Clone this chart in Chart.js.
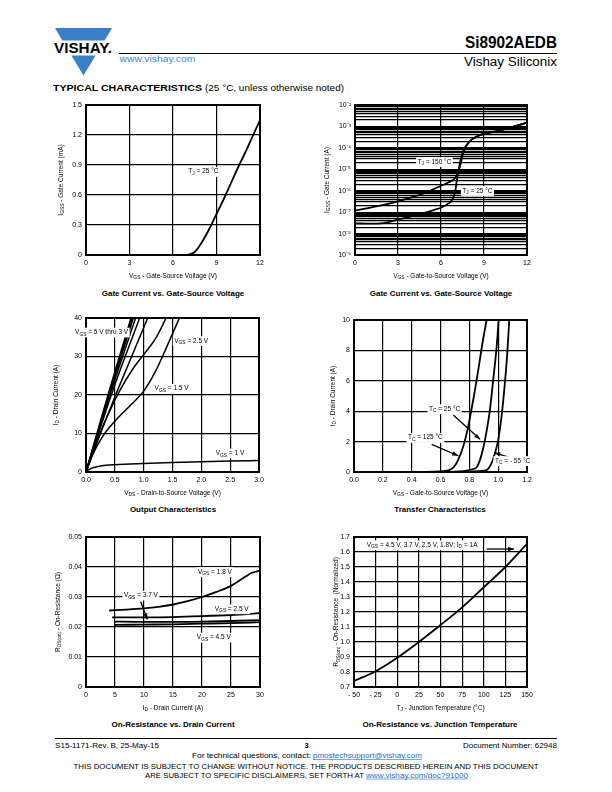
<!DOCTYPE html>
<html>
<head>
<meta charset="utf-8">
<title>Si8902AEDB - Typical Characteristics</title>
<script src="https://cdn.jsdelivr.net/npm/chart.js@4.4.1/dist/chart.umd.min.js"></script>
<style>
  body { margin: 0; width: 612px; height: 792px; position: relative; background: #fff; overflow: hidden;
         font-family: "Liberation Sans", Arial, sans-serif; color: #000; }
  canvas { position: absolute; }
  svg { position: absolute; left: 0; top: 0; }
  .cap { position: absolute; width: 220px; text-align: center; font-weight: bold; font-size: 8px; line-height: 9px; }
</style>
</head>
<body>

<svg width="612" height="792" font-family="Liberation Sans, Arial, sans-serif">
  <!-- header -->
  <polygon points="55,28 112,28 104.7,40.5 62.3,40.5" fill="#3b7fc8"/>
  <polygon points="71.4,55.5 95.6,55.5 83.5,75.5" fill="#3b7fc8"/>
  <text x="54" y="53" font-size="14.5" font-weight="bold" textLength="58" lengthAdjust="spacingAndGlyphs">VISHAY.</text>
  <text x="557" y="48" font-size="16.5" font-weight="bold" text-anchor="end" textLength="92" lengthAdjust="spacingAndGlyphs">Si8902AEDB</text>
  <line x1="119" y1="53.5" x2="557" y2="53.5" stroke="#000" stroke-width="1.2"/>
  <text x="119.5" y="62" font-size="9" fill="#3b8ad6" textLength="76" lengthAdjust="spacingAndGlyphs">www.vishay.com</text>
  <text x="557" y="66" font-size="12.5" text-anchor="end" textLength="93" lengthAdjust="spacingAndGlyphs">Vishay Siliconix</text>
  <text x="53" y="91" font-size="9.5" font-weight="bold" textLength="149" lengthAdjust="spacingAndGlyphs">TYPICAL CHARACTERISTICS</text>
  <text x="205" y="91" font-size="9" textLength="139" lengthAdjust="spacingAndGlyphs">(25 °C, unless otherwise noted)</text>

  <!-- footer -->
  <line x1="55" y1="738.5" x2="557" y2="738.5" stroke="#000" stroke-width="1"/>
  <text x="55" y="747.5" font-size="7.5" textLength="104" lengthAdjust="spacingAndGlyphs">S15-1171-Rev. B, 25-May-15</text>
  <text x="306.5" y="747.5" font-size="7.5" font-weight="bold" text-anchor="middle">3</text>
  <text x="557" y="747.5" font-size="7.5" text-anchor="end" textLength="94" lengthAdjust="spacingAndGlyphs">Document Number: 62948</text>
  <text x="311" y="758" font-size="7.5" text-anchor="end" textLength="119" lengthAdjust="spacingAndGlyphs">For technical questions, contact: </text>
  <text x="313" y="758" font-size="7.5" fill="#1a6fc0" textLength="109" lengthAdjust="spacingAndGlyphs">pmostechsupport@vishay.com</text>
  <line x1="313" y1="759.5" x2="422" y2="759.5" stroke="#1a6fc0" stroke-width="0.6"/>
  <text x="306" y="769" font-size="7.5" text-anchor="middle" textLength="465" lengthAdjust="spacingAndGlyphs">THIS DOCUMENT IS SUBJECT TO CHANGE WITHOUT NOTICE. THE PRODUCTS DESCRIBED HEREIN AND THIS DOCUMENT</text>
  <text x="145" y="777.5" font-size="7.5" textLength="219" lengthAdjust="spacingAndGlyphs">ARE SUBJECT TO SPECIFIC DISCLAIMERS, SET FORTH AT </text>
  <text x="366" y="777.5" font-size="7.5" fill="#1a6fc0" textLength="102" lengthAdjust="spacingAndGlyphs">www.vishay.com/doc?91000</text>
  <line x1="366" y1="779" x2="468" y2="779" stroke="#1a6fc0" stroke-width="0.6"/>
</svg>

<canvas id="gateLin"></canvas>
<canvas id="gateLog"></canvas>
<canvas id="output"></canvas>
<canvas id="transfer"></canvas>
<canvas id="ronId"></canvas>
<canvas id="ronTemp"></canvas>

<div class="cap" style="left:63px;top:289px">Gate Current vs. Gate-Source Voltage</div>
<div class="cap" style="left:331px;top:289px">Gate Current vs. Gate-Source Voltage</div>
<div class="cap" style="left:63px;top:505px">Output Characteristics</div>
<div class="cap" style="left:330px;top:505px">Transfer Characteristics</div>
<div class="cap" style="left:63px;top:720px">On-Resistance vs. Drain Current</div>
<div class="cap" style="left:330px;top:720px">On-Resistance vs. Junction Temperature</div>

<script>
// ---- gate current, linear (mA) ----
const gateVgs = [0, 6.8, 7.2, 7.5, 8, 8.5, 9, 9.5, 10, 10.5, 11, 11.5, 12];
const gateImA = [0, 0, 0.01, 0.03, 0.13, 0.26, 0.41, 0.56, 0.72, 0.88, 1.03, 1.19, 1.35];
const gateVTicks = [0, 3, 6, 9, 12];
const gateMATicks = [0, 0.3, 0.6, 0.9, 1.2, 1.5];

// ---- gate current, log (A) ----
const vgs150 = [0, 1, 2, 3, 4, 5, 6, 6.5, 7, 7.2, 7.4, 7.6, 8, 8.5, 9, 10, 11, 12];
const igss150 = [1.2e-7, 1.6e-7, 2.2e-7, 3.2e-7, 5e-7, 8.5e-7, 1.7e-6, 2.4e-6, 4e-6, 7e-6, 2.2e-5, 7.5e-5, 2e-4, 3.4e-4, 4.5e-4, 6.2e-4, 9.5e-4, 1.5e-3];
const vgs25 = [0, 1, 2, 3, 4, 5, 5.5, 6, 6.5, 6.8, 7, 7.1, 7.25, 7.4, 7.6, 8, 8.5, 9, 10, 11, 12];
const igss25 = [3e-8, 2.9e-8, 3.1e-8, 4.5e-8, 6.5e-8, 1e-7, 1.25e-7, 1.6e-7, 2.5e-7, 4e-7, 1e-6, 3e-6, 1.1e-5, 3.4e-5, 8.3e-5, 2e-4, 3.4e-4, 4.5e-4, 6.2e-4, 9.5e-4, 1.5e-3];
const logDecades = [-9, -8, -7, -6, -5, -4, -3, -2];

// ---- output characteristics ----
const vds5 = [0, 0.2, 0.4, 0.6, 0.78];           const id5 = [0, 10.5, 21, 31, 40];
const vds45 = [0, 0.2, 0.4, 0.6, 0.8];           const id45 = [0, 10.2, 20.4, 30.2, 40];
const vds4 = [0, 0.2, 0.4, 0.6, 0.82];           const id4 = [0, 10, 20, 29.5, 40];
const vds35 = [0, 0.2, 0.4, 0.6, 0.86];          const id35 = [0, 9.7, 19.3, 28.4, 40];
const vds3 = [0, 0.2, 0.4, 0.6, 0.8, 0.93];      const id3 = [0, 9.3, 18.3, 26.8, 34.8, 40];
const vds25 = [0, 0.25, 0.5, 0.75, 1.07];        const id25 = [0, 10, 19.5, 28.5, 40];
const vds2 = [0, 0.2, 0.4, 0.6, 0.8, 1.0, 1.2, 1.39];       const id2 = [0, 8.5, 15.5, 21.5, 26.5, 30.5, 34.5, 40];
const vds15 = [0, 0.1, 0.3, 0.5, 0.75, 1.0, 1.2, 1.4, 1.62]; const id15 = [0, 4, 9.5, 13.2, 17, 21, 26, 32.5, 40];
const vds1 = [0, 0.05, 0.1, 0.2, 0.35, 0.5, 1.0, 1.5, 2.0, 2.5, 3.0];
const id1 = [0, 0.6, 1.0, 1.4, 1.75, 1.9, 2.2, 2.45, 2.65, 2.85, 3.0];
const outVTicks = [0, 0.5, 1, 1.5, 2, 2.5, 3];
const outATicks = [0, 10, 20, 30, 40];

// ---- transfer characteristics ----
const vgs125c = [0, 0.45, 0.55, 0.62, 0.66, 0.69, 0.72, 0.76, 0.79, 0.83, 0.86, 0.895, 0.92];
const id125c = [0, 0, 0.02, 0.06, 0.12, 0.3, 0.75, 1.75, 2.9, 4.9, 6.6, 8.7, 10];
const vgs25c = [0, 0.6, 0.7, 0.76, 0.8, 0.83, 0.85, 0.874, 0.897, 0.92, 0.943, 0.966, 0.99, 1.003];
const id25c = [0, 0, 0.02, 0.06, 0.12, 0.2, 0.3, 0.8, 1.6, 2.7, 4.1, 6.1, 8.3, 10];
const vgsM55c = [0, 0.7, 0.8, 0.86, 0.9, 0.92, 0.955, 0.978, 1.0, 1.024, 1.047, 1.063, 1.077];
const idM55c = [0, 0, 0.02, 0.05, 0.09, 0.12, 0.6, 1.25, 2.1, 3.7, 5.9, 7.8, 10];
const xferVTicks = [0, 0.2, 0.4, 0.6, 0.8, 1.0, 1.2];
const xferATicks = [0, 2, 4, 6, 8, 10];

// ---- on-resistance vs drain current ----
const idR18 = [4, 7, 10, 12.5, 15, 17.5, 20, 22.5, 25, 27.5, 28.5, 30];
const ron18 = [0.0255, 0.0258, 0.0262, 0.0267, 0.0275, 0.0286, 0.0300, 0.0317, 0.0337, 0.0368, 0.0380, 0.0388];
const idR25 = [4.5, 10, 15, 20, 25, 30];
const ron25 = [0.0232, 0.0232, 0.0233, 0.0236, 0.0240, 0.0246];
const idR37 = [5, 10, 15, 20, 25, 30];
const ron37 = [0.0218, 0.0217, 0.0217, 0.0218, 0.0220, 0.0223];
const idR45 = [5, 10, 15, 20, 25, 30];
const ron45 = [0.0207, 0.0208, 0.0209, 0.0211, 0.0213, 0.0216];
const ronATicks = [0, 5, 10, 15, 20, 25, 30];
const ronOhmTicks = [0, 0.01, 0.02, 0.03, 0.04, 0.05];

// ---- on-resistance vs junction temperature ----
const tj = [-50, -25, 0, 25, 50, 75, 100, 125, 150];
const ronNorm = [0.74, 0.805, 0.895, 1.0, 1.113, 1.231, 1.365, 1.5, 1.655];
const tjTicks = [-50, -25, 0, 25, 50, 75, 100, 125, 150];
const ronNormTicks = [0.7, 0.8, 0.9, 1.0, 1.1, 1.2, 1.3, 1.4, 1.5, 1.6, 1.7];

Chart.defaults.font.family = '"Liberation Sans", Arial, sans-serif';
Chart.defaults.color = '#000';

const FONT = s => s + 'px "Liberation Sans", Arial, sans-serif';

// text with {subscript} parts
function drawRich(ctx, str, x, y, size, align, bg) {
    const parts = str.split(/(\{[^}]*\})/).filter(s => s).map(s =>
        s[0] === '{' ? { t: s.slice(1, -1), sub: true } : { t: s, sub: false });
    let w = 0;
    parts.forEach(p => { ctx.font = FONT(p.sub ? size * 0.75 : size); p.w = ctx.measureText(p.t).width; w += p.w; });
    let cx = align === 'center' ? x - w / 2 : x;
    if (bg) { ctx.fillStyle = '#fff'; ctx.fillRect(cx - 1.5, y - size * 0.7, w + 3, size * 1.5); }
    ctx.fillStyle = '#000';
    ctx.textBaseline = 'middle';
    ctx.textAlign = 'left';
    parts.forEach(p => {
        ctx.font = FONT(p.sub ? size * 0.75 : size);
        ctx.fillText(p.t, cx, p.sub ? y + size * 0.32 : y);
        cx += p.w;
    });
}

function drawArrow(ctx, x1, y1, x2, y2) {
    ctx.strokeStyle = '#000';
    ctx.fillStyle = '#000';
    ctx.lineWidth = 1.3;
    ctx.beginPath(); ctx.moveTo(x1, y1); ctx.lineTo(x2, y2); ctx.stroke();
    const a = Math.atan2(y2 - y1, x2 - x1), L = 6, W = 2.2;
    ctx.beginPath();
    ctx.moveTo(x2, y2);
    ctx.lineTo(x2 - L * Math.cos(a) + W * Math.sin(a), y2 - L * Math.sin(a) - W * Math.cos(a));
    ctx.lineTo(x2 - L * Math.cos(a) - W * Math.sin(a), y2 - L * Math.sin(a) + W * Math.cos(a));
    ctx.closePath();
    ctx.fill();
}

// frame, notes and axis titles
const sheetPlugin = {
    id: 'sheet',
    afterDraw(chart, args, o) {
        const { ctx, chartArea: a } = chart;
        const x = chart.scales.x, y = chart.scales.y;
        ctx.save();
        ctx.strokeStyle = '#000';
        ctx.lineWidth = 2;
        ctx.strokeRect(a.left, a.top, a.right - a.left, a.bottom - a.top);
        (o.notes || []).forEach(n => {
            if (n.arrow) {
                drawArrow(ctx, x.getPixelForValue(n.arrow[0]), y.getPixelForValue(n.arrow[1]),
                    x.getPixelForValue(n.arrow[2]), y.getPixelForValue(n.arrow[3]));
            }
            drawRich(ctx, n.text, x.getPixelForValue(n.x), y.getPixelForValue(n.y), 6.5, 'left', true);
        });
        drawRich(ctx, o.xTitle, (a.left + a.right) / 2, a.bottom + 21, 6.5, 'center');
        ctx.translate(a.left - o.yOff, (a.top + a.bottom) / 2);
        ctx.rotate(-Math.PI / 2);
        drawRich(ctx, o.yTitle, 0, 0, 6.5, 'center');
        ctx.restore();
    }
};

function axis(type, min, max, ticks, fmt) {
    return {
        type, min, max,
        afterBuildTicks: s => { s.ticks = ticks.map(v => ({ value: v })); },
        ticks: { callback: fmt, padding: 4, font: { size: 7 }, color: '#000', autoSkip: false, maxRotation: 0 },
        grid: { color: '#000', lineWidth: 1.2, drawTicks: false },
        border: { display: false }
    };
}

function curve(xs, ys, w) {
    return {
        data: xs.map((v, i) => ({ x: v, y: ys[i] })),
        borderColor: '#000', borderWidth: w || 1.8, pointRadius: 0,
        cubicInterpolationMode: 'monotone', fill: false
    };
}

function sheetChart(id, plot, datasets, xAxis, yAxis, extra) {
    const cv = document.getElementById(id);
    cv.width = plot[2] - plot[0] + 55;
    cv.height = plot[3] - plot[1] + 40;
    cv.style.left = (plot[0] - 40) + 'px';
    cv.style.top = (plot[1] - 10) + 'px';
    xAxis.afterFit = s => { s.height = 30; s.paddingLeft = 0; s.paddingRight = 0; };
    yAxis.afterFit = s => { s.width = 40; s.paddingTop = 0; s.paddingBottom = 0; };
    return new Chart(cv, {
        type: 'line',
        data: { datasets },
        options: {
            responsive: false, animation: false, events: [], devicePixelRatio: 1,
            layout: { padding: { left: 0, top: 10, right: 15, bottom: 0 } },
            scales: { x: xAxis, y: yAxis },
            plugins: { legend: { display: false }, tooltip: { enabled: false }, sheet: extra }
        },
        plugins: [sheetPlugin]
    });
}

const SUP = { '-': '\u207B', '0': '\u2070', '1': '\u00B9', '2': '\u00B2', '3': '\u00B3', '4': '\u2074',
              '5': '\u2075', '6': '\u2076', '7': '\u2077', '8': '\u2078', '9': '\u2079' };
const sup = n => String(n).split('').map(c => SUP[c]).join('');

// 1: gate current, linear
sheetChart('gateLin', [86, 105, 260, 255],
    [curve(gateVgs, gateImA, 1.8)],
    axis('linear', 0, 12, gateVTicks, v => String(v)),
    axis('linear', 0, 1.5, gateMATicks, v => v === 0 ? '0' : v.toFixed(1)),
    { xTitle: 'V{GS} - Gate-Source Voltage (V)', yTitle: 'I{GSS} - Gate Current (mA)', yOff: 25,
      notes: [{ x: 7.06, y: 0.833, text: 'T{J} = 25 °C' }] });

// 2: gate current, log
const logTicks = [];
logDecades.forEach((d, i) => {
    if (i === logDecades.length - 1) { logTicks.push(Math.pow(10, d)); return; }
    for (let k = 1; k <= 9; k++) logTicks.push(k * Math.pow(10, d));
});
sheetChart('gateLog', [355, 105, 527, 255],
    [curve(vgs150, igss150, 1.8), curve(vgs25, igss25, 1.8)],
    axis('linear', 0, 12, gateVTicks, v => String(v)),
    axis('logarithmic', 1e-9, 1e-2, logTicks, v => {
        const e = Math.log10(v);
        return Math.abs(e - Math.round(e)) < 1e-6 ? '10' + sup(Math.round(e)) : '';
    }),
    { xTitle: 'V{GS} - Gate-to-Source Voltage (V)', yTitle: 'I{GSS} - Gate Current (A)', yOff: 28,
      notes: [{ x: 4.37, y: 2.24e-5, text: 'T{J} = 150 °C' },
              { x: 7.49, y: 1e-6, text: 'T{J} = 25 °C' }] });

// 3: output characteristics
sheetChart('output', [86, 318, 259, 472],
    [curve(vds5, id5, 1.5), curve(vds45, id45, 1.5), curve(vds4, id4, 1.5), curve(vds35, id35, 1.5),
     curve(vds3, id3, 1.5), curve(vds25, id25, 1.5), curve(vds2, id2, 1.5), curve(vds15, id15, 1.5),
     curve(vds1, id1, 1.5)],
    axis('linear', 0, 3, outVTicks, v => v.toFixed(1)),
    axis('linear', 0, 40, outATicks, v => String(v)),
    { xTitle: 'V{DS} - Drain-to-Source Voltage (V)', yTitle: 'I{D} - Drain Current (A)', yOff: 30,
      notes: [{ x: -0.19, y: 36.3, text: 'V{GS} = 5 V thru 3 V' },
              { x: 1.53, y: 34.1, text: 'V{GS} = 2.5 V' },
              { x: 1.19, y: 21.7, text: 'V{GS} = 1.5 V' },
              { x: 2.25, y: 4.9, text: 'V{GS} = 1 V' }] });

// 4: transfer characteristics
sheetChart('transfer', [354, 320, 527, 472],
    [curve(vgs125c, id125c, 1.8), curve(vgs25c, id25c, 1.8), curve(vgsM55c, idM55c, 1.8)],
    axis('linear', 0, 1.2, xferVTicks, v => v.toFixed(1)),
    axis('linear', 0, 10, xferATicks, v => String(v)),
    { xTitle: 'V{GS} - Gate-to-Source Voltage (V)', yTitle: 'I{D} - Drain Current (A)', yOff: 21,
      notes: [{ x: 0.52, y: 4.15, text: 'T{C} = 25 °C', arrow: [0.689, 3.75, 0.874, 2.15] },
              { x: 0.374, y: 2.26, text: 'T{C} = 125 °C', arrow: [0.539, 1.82, 0.723, 1.07] },
              { x: 0.978, y: 0.74, text: 'T{C} = - 55 °C', arrow: [1.082, 0.94, 0.973, 1.27] }] });

// 5: on-resistance vs drain current
sheetChart('ronId', [86, 537, 260, 687],
    [curve(idR18, ron18, 1.8), curve(idR25, ron25, 1.8), curve(idR37, ron37, 1.8), curve(idR45, ron45, 1.8)],
    axis('linear', 0, 30, ronATicks, v => String(v)),
    axis('linear', 0, 0.05, ronOhmTicks, v => v === 0 ? '0' : v.toFixed(2)),
    { xTitle: 'I{D} - Drain Current (A)', yTitle: 'R{DS(on)} - On-Resistance (\u03A9)', yOff: 28,
      notes: [{ x: 19.3, y: 0.03843, text: 'V{GS} = 1.8 V' },
              { x: 6.55, y: 0.03057, text: 'V{GS} = 3.7 V', arrow: [9.43, 0.02843, 10.57, 0.02257] },
              { x: 22.2, y: 0.026, text: 'V{GS} = 2.5 V' },
              { x: 19.1, y: 0.01657, text: 'V{GS} = 4.5 V' }] });

// 6: on-resistance vs junction temperature
sheetChart('ronTemp', [354, 537, 527, 687],
    [curve(tj, ronNorm, 1.8)],
    axis('linear', -50, 150, tjTicks, v => v < 0 ? '- ' + (-v) : String(v)),
    axis('linear', 0.7, 1.7, ronNormTicks, v => v.toFixed(1)),
    { xTitle: 'T{J} - Junction Temperature (°C)', yTitle: 'R{DS(on)} - On-Resistance  (Normalized)', yOff: 17.5,
      notes: [{ x: -35.3, y: 1.647, text: 'V{GS} = 4.5 V, 3.7 V, 2.5 V, 1.8V; I{D} = 1A', arrow: [103.4, 1.62, 135, 1.62] }] });
</script>
</body>
</html>
